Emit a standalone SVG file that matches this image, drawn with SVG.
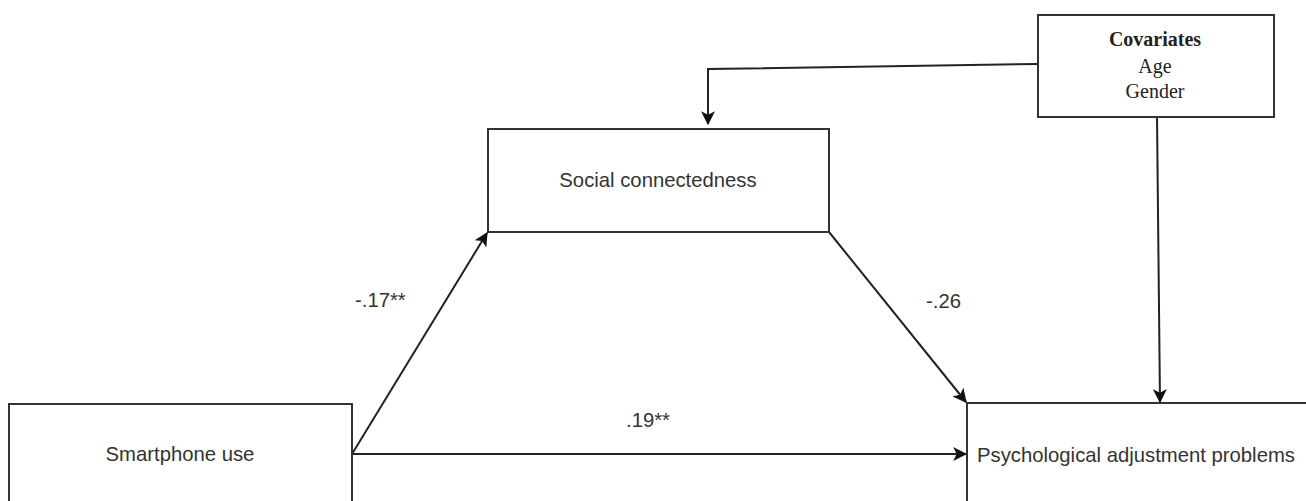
<svg xmlns="http://www.w3.org/2000/svg" width="1306" height="501" viewBox="0 0 1306 501">
  <defs>
    <marker id="arrow" viewBox="0 0 12 12" refX="11" refY="6" markerWidth="14" markerHeight="14" markerUnits="userSpaceOnUse" orient="auto">
      <path d="M0,0 L12,6 L0,12 L3,6 Z" fill="#111"/>
    </marker>
    <style>
      .box { fill: #fff; stroke: #333; stroke-width: 2; }
      .edge { fill: none; stroke: #222; stroke-width: 2; marker-end: url(#arrow); }
      .sans { font-family: "Liberation Sans", Arial, sans-serif; font-size: 20.3px; fill: #333; }
      .serif { font-family: "Liberation Serif", "Times New Roman", serif; font-size: 20px; fill: #222; text-anchor: middle; }
    </style>
  </defs>
  <rect width="1306" height="501" fill="#fff"/>

  <g id="connectors">
    <polyline class="edge" points="1038,64 708,69 708,124"/>
    <line class="edge" x1="1157" y1="117" x2="1160" y2="402"/>
    <line class="edge" x1="352" y1="454" x2="487" y2="233"/>
    <line class="edge" x1="352" y1="454" x2="966" y2="454"/>
    <line class="edge" x1="829" y1="232" x2="966" y2="402"/>
  </g>

  <g id="covariates">
    <rect class="box" x="1038" y="15" width="236" height="102"/>
    <text class="serif" x="1155" y="46" font-weight="bold">Covariates</text>
    <text class="serif" x="1155" y="73">Age</text>
    <text class="serif" x="1155" y="98">Gender</text>
  </g>

  <g id="social-connectedness">
    <rect class="box" x="488" y="129" width="341" height="103"/>
    <text class="sans" x="658" y="187" text-anchor="middle">Social connectedness</text>
  </g>

  <g id="smartphone-use">
    <rect class="box" x="9" y="404" width="343" height="110"/>
    <text class="sans" x="180" y="461" text-anchor="middle">Smartphone use</text>
  </g>

  <g id="psychological-adjustment">
    <rect class="box" x="967" y="403" width="345" height="110"/>
    <text class="sans" x="1136" y="462" text-anchor="middle">Psychological adjustment problems</text>
  </g>

  <g id="labels">
    <text class="sans" x="355" y="307">-.17**</text>
    <text class="sans" x="926" y="308">-.26</text>
    <text class="sans" x="626" y="427">.19**</text>
  </g>
</svg>
